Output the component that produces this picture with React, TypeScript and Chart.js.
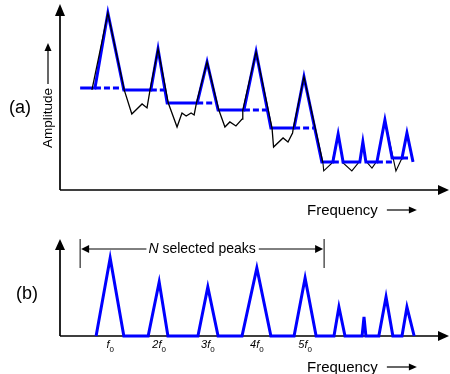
import React, { useEffect, useRef } from 'react';
import { Chart, registerables } from 'chart.js';

Chart.register(...registerables);

const FONT = 'Arial, "Liberation Sans", Helvetica, sans-serif';
const BLUE = '#0000ff';

// ---------- Panel (a): measured spectrum (black) ----------
const spectrumFreq = [
  8.4, 12.6, 16.9, 18.9, 21.6, 22.9, 23.7, 25.8, 28.5, 30.8,
  32.1, 33.2, 34.5, 35.3, 35.9, 38.7, 41.8, 43.4, 44.7, 46.3,
  47.9, 48.1, 51.6, 55.8, 56.2, 58.7, 60.0, 61.2, 61.4, 64.2,
  69.2, 69.4, 71.6, 73.2, 74.5, 76.8, 78.9, 79.7, 80.5, 82.1,
  83.4, 85.5, 88.4, 90.0, 91.3, 92.9,
];
const spectrumAmp = [
  55.6, 98.3, 55.6, 42.2, 47.8, 45.6, 55.6, 78.3, 48.3, 35.0,
  42.8, 41.1, 42.8, 41.7, 48.3, 71.1, 44.4, 35.0, 37.8, 35.6,
  39.4, 44.4, 76.7, 34.4, 23.9, 28.9, 26.7, 31.7, 34.4, 62.8,
  15.0, 10.6, 15.0, 31.1, 15.0, 10.6, 16.1, 26.7, 16.1, 12.2,
  16.1, 38.9, 10.6, 17.8, 31.7, 15.6,
];
// from this frequency on, the black trace lies beneath the blue envelope
const tailStartFreq = 69.2;

// ---------- Panel (a): peak/threshold envelope (blue) ----------
const envelopeFreq = [
  5.3, 9.2, 12.6, 16.8, 23.9, 25.8, 28.2, 36.1, 38.7, 41.6,
  48.4, 51.6, 55.5, 61.6, 64.2, 68.9, 71.8, 73.2, 74.5, 78.9,
  79.7, 80.5, 83.4, 85.5, 87.4, 90.0, 91.3, 92.9,
];
const envelopeAmp = [
  56.7, 56.7, 98.3, 55.6, 55.6, 78.3, 48.3, 48.3, 71.1, 44.4,
  44.4, 76.7, 34.4, 34.4, 62.8, 15.6, 15.6, 31.1, 15.6, 15.6,
  26.7, 15.6, 15.6, 38.9, 17.8, 17.8, 31.7, 15.6,
];

// dashed peak bases (threshold continuation under each peak)
const baseStart = [9.2, 23.9, 36.1, 48.4, 61.6, 71.8, 83.4, 90.0];
const baseEnd = [16.6, 27.9, 40.8, 54.5, 67.1, 74.5, 87.4, 92.9];
const baseAmp = [56.7, 55.6, 48.3, 44.4, 34.4, 15.6, 15.6, 17.8];

// ---------- Panel (b): extracted peaks ----------
const peakStart = [9.5, 23.2, 36.3, 47.9, 61.6, 72.1, 79.5, 83.9, 90.0];
const peakCenter = [13.2, 26.1, 38.9, 51.8, 64.5, 73.4, 80.0, 85.8, 91.3];
const peakEnd = [16.8, 28.4, 41.6, 55.5, 67.4, 75.0, 80.5, 87.6, 93.2];
const peakHeight = [86.7, 60.0, 54.4, 75.6, 64.4, 32.2, 21.1, 43.3, 32.2];

const harmonicPrefix = ['', '2', '3', '4', '5'];
const selectedRange = [5.3, 69.5];

const xy = (xs: number[], ys: number[]) => xs.map((x, i) => ({ x, y: ys[i] }));

function head(ctx: CanvasRenderingContext2D, tx: number, ty: number, dx: number, dy: number, len: number, half: number) {
  const bx = tx - dx * len;
  const by = ty - dy * len;
  const px = -dy;
  const py = dx;
  ctx.beginPath();
  ctx.moveTo(tx, ty);
  ctx.lineTo(bx + px * half, by + py * half);
  ctx.lineTo(bx - px * half, by - py * half);
  ctx.closePath();
  ctx.fill();
}

function axesPlugin(id: string, tipOff: number, headLen: number) {
  return {
    id,
    beforeDatasetsDraw(chart: any) {
      const { ctx, chartArea, scales } = chart;
      const x0 = scales.x.getPixelForValue(0);
      const y0 = scales.y.getPixelForValue(0);
      ctx.save();
      ctx.strokeStyle = '#000';
      ctx.fillStyle = '#000';
      ctx.lineWidth = 1.7;
      ctx.beginPath();
      ctx.moveTo(x0, y0);
      ctx.lineTo(x0, chartArea.top - tipOff + headLen - 1);
      ctx.moveTo(x0, y0);
      ctx.lineTo(chartArea.right, y0);
      ctx.stroke();
      head(ctx, x0, chartArea.top - tipOff, 0, -1, headLen, 5);
      head(ctx, chartArea.right + 9, y0, 1, 0, 11, 5);
      ctx.restore();
    },
  };
}

function freqLabel(ctx: CanvasRenderingContext2D, x: number, baseline: number) {
  ctx.font = `15px ${FONT}`;
  ctx.textAlign = 'left';
  ctx.textBaseline = 'alphabetic';
  ctx.fillText('Frequency', x, baseline);
  const w = ctx.measureText('Frequency').width;
  const ay = baseline - 5;
  const ax = x + w + 9;
  ctx.lineWidth = 1.2;
  ctx.beginPath();
  ctx.moveTo(ax, ay);
  ctx.lineTo(ax + 23, ay);
  ctx.stroke();
  head(ctx, ax + 30, ay, 1, 0, 8, 3.5);
}

const textPluginA = {
  id: 'textA',
  afterDraw(chart: any) {
    const { ctx } = chart;
    ctx.save();
    ctx.fillStyle = '#000';
    ctx.strokeStyle = '#000';
    ctx.font = `18px ${FONT}`;
    ctx.textAlign = 'center';
    ctx.textBaseline = 'middle';
    ctx.fillText('(a)', 20, 108);

    ctx.save();
    ctx.translate(52, 118);
    ctx.rotate(-Math.PI / 2);
    ctx.font = `13.5px ${FONT}`;
    ctx.textAlign = 'center';
    ctx.textBaseline = 'alphabetic';
    ctx.fillText('Amplitude', 0, 0);
    ctx.restore();

    ctx.lineWidth = 1.2;
    ctx.beginPath();
    ctx.moveTo(48, 84);
    ctx.lineTo(48, 50);
    ctx.stroke();
    head(ctx, 48, 43, 0, -1, 8, 3.5);

    freqLabel(ctx, 307, 215);
    ctx.restore();
  },
};

const textPluginB = {
  id: 'textB',
  afterDraw(chart: any) {
    const { ctx, scales } = chart;
    ctx.save();
    ctx.fillStyle = '#000';
    ctx.strokeStyle = '#000';
    ctx.font = `18px ${FONT}`;
    ctx.textAlign = 'center';
    ctx.textBaseline = 'middle';
    ctx.fillText('(b)', 27, 69);

    // N selected peaks bracket
    const xl = scales.x.getPixelForValue(selectedRange[0]);
    const xr = scales.x.getPixelForValue(selectedRange[1]);
    const by = 24;
    ctx.lineWidth = 1;
    ctx.beginPath();
    ctx.moveTo(xl, 14);
    ctx.lineTo(xl, 43);
    ctx.moveTo(xr, 14);
    ctx.lineTo(xr, 43);
    ctx.stroke();
    ctx.font = `italic 14px ${FONT}`;
    const wN = ctx.measureText('N').width;
    ctx.font = `14px ${FONT}`;
    const rest = ' selected peaks';
    const wR = ctx.measureText(rest).width;
    const total = wN + wR;
    const tx = (xl + xr) / 2 - total / 2;
    ctx.textAlign = 'left';
    ctx.textBaseline = 'middle';
    ctx.font = `italic 14px ${FONT}`;
    ctx.fillText('N', tx, by);
    ctx.font = `14px ${FONT}`;
    ctx.fillText(rest, tx + wN, by);
    ctx.beginPath();
    ctx.moveTo(xl + 6, by);
    ctx.lineTo(tx - 2, by);
    ctx.moveTo(tx + total + 3, by);
    ctx.lineTo(xr - 6, by);
    ctx.stroke();
    head(ctx, xl + 1, by, -1, 0, 8, 4);
    head(ctx, xr - 1, by, 1, 0, 8, 4);

    // harmonic tick labels
    harmonicPrefix.forEach((p, i) => {
      const cx = scales.x.getPixelForValue(peakCenter[i]);
      ctx.font = `italic 11px ${FONT}`;
      const main = p + 'f';
      const wm = ctx.measureText(main).width;
      ctx.font = `8px ${FONT}`;
      const ws = ctx.measureText('0').width;
      const sx = cx - (wm + ws) / 2;
      ctx.textBaseline = 'alphabetic';
      ctx.textAlign = 'left';
      ctx.font = `italic 11px ${FONT}`;
      ctx.fillText(main, sx, 123);
      ctx.font = `8px ${FONT}`;
      ctx.fillText('0', sx + wm, 127);
    });

    freqLabel(ctx, 307, 147);
    ctx.restore();
  },
};

function baseOptions(padding: any) {
  return {
    responsive: false,
    animation: false as const,
    layout: { padding },
    scales: {
      x: { type: 'linear' as const, min: 0, max: 100, display: false },
      y: { type: 'linear' as const, min: 0, max: 100, display: false },
    },
    plugins: { legend: { display: false }, tooltip: { enabled: false } },
    elements: { point: { radius: 0 }, line: { tension: 0 } },
  };
}

export default function App() {
  const topRef = useRef<HTMLCanvasElement>(null);
  const botRef = useRef<HTMLCanvasElement>(null);

  useEffect(() => {
    const spectrum = xy(spectrumFreq, spectrumAmp);
    const spectrumHead = spectrum.filter((p) => p.x <= tailStartFreq);
    const spectrumTail = spectrum.filter((p) => p.x >= tailStartFreq);
    const dashed = baseStart.map((s, i) => ({
      data: [{ x: s, y: baseAmp[i] }, { x: baseEnd[i], y: baseAmp[i] }],
      borderColor: BLUE,
      borderWidth: 3,
      borderDash: [6, 3],
      pointRadius: 0,
      clip: false,
      order: 1,
    }));
    const a = new Chart(topRef.current as HTMLCanvasElement, {
      type: 'line',
      data: {
        datasets: [
          {
            data: spectrumHead,
            borderColor: '#000',
            borderWidth: 1.3,
            borderJoinStyle: 'miter',
            pointRadius: 0,
            clip: false,
            order: 0,
          },
          {
            data: xy(envelopeFreq, envelopeAmp),
            borderColor: BLUE,
            borderWidth: 3,
            borderJoinStyle: 'miter',
            pointRadius: 0,
            clip: false,
            order: 1,
          },
          ...dashed,
          {
            data: spectrumTail,
            borderColor: '#000',
            borderWidth: 1.1,
            borderJoinStyle: 'miter',
            pointRadius: 0,
            clip: false,
            order: 2,
          },
        ] as any,
      },
      options: baseOptions({ left: 60, right: 10, top: 10, bottom: 35 }) as any,
      plugins: [axesPlugin('axesA', 6, 12), textPluginA],
    });

    const pathB: { x: number; y: number }[] = [];
    peakStart.forEach((s, i) => {
      pathB.push({ x: s, y: 0 }, { x: peakCenter[i], y: peakHeight[i] }, { x: peakEnd[i], y: 0 });
    });
    const b = new Chart(botRef.current as HTMLCanvasElement, {
      type: 'line',
      data: {
        datasets: [
          {
            data: pathB,
            borderColor: BLUE,
            borderWidth: 3,
            borderJoinStyle: 'miter',
            pointRadius: 0,
            clip: false,
          },
        ] as any,
      },
      options: baseOptions({ left: 60, right: 10, top: 21, bottom: 38 }) as any,
      plugins: [axesPlugin('axesB', 7, 11), textPluginB],
    });

    return () => {
      a.destroy();
      b.destroy();
    };
  }, []);

  return (
    <div style={{ position: 'absolute', left: 0, top: 0, width: 450, height: 374, background: '#fff' }}>
      <canvas ref={topRef} width={450} height={225} style={{ position: 'absolute', left: 0, top: 0 }} />
      <canvas ref={botRef} width={450} height={149} style={{ position: 'absolute', left: 0, top: 225 }} />
    </div>
  );
}
